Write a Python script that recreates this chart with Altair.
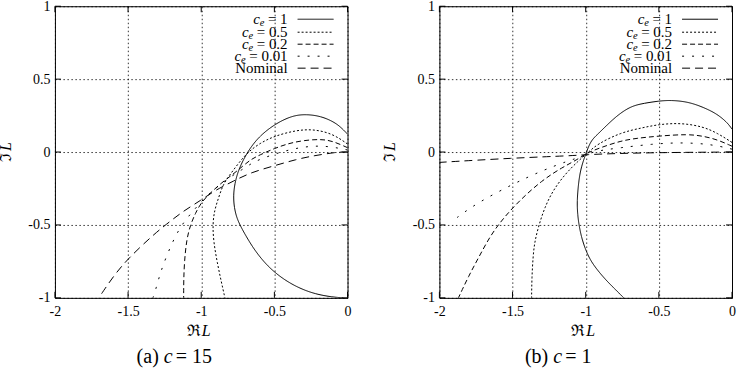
import altair as alt
import pandas as pd

# ---------------------------------------------------------------------------
# Nyquist curves L(jw), panel (a): c = 15
# ---------------------------------------------------------------------------
c15_ce1_re = [0.0, -0.05, -0.10, -0.18, -0.28, -0.38, -0.50, -0.60, -0.66, -0.70, -0.745,
              -0.772, -0.78, -0.775, -0.755, -0.72, -0.68, -0.63, -0.55, -0.45, -0.34, -0.22,
              -0.10, -0.03]
c15_ce1_im = [0.123, 0.175, 0.21, 0.245, 0.26, 0.25, 0.19, 0.11, 0.035, -0.03, -0.12,
              -0.22, -0.30, -0.38, -0.46, -0.53, -0.60, -0.68, -0.78, -0.865, -0.93, -0.975,
              -0.995, -1.0]

c15_ce05_re = [0.0, -0.10, -0.23, -0.35, -0.50, -0.60, -0.68, -0.74, -0.80, -0.85, -0.88,
               -0.91, -0.922, -0.915, -0.89, -0.865, -0.838]
c15_ce05_im = [0.055, 0.125, 0.157, 0.15, 0.11, 0.06, 0.0, -0.07, -0.15, -0.22, -0.31,
               -0.40, -0.50, -0.62, -0.76, -0.88, -1.0]

c15_ce02_re = [0.0, -0.10, -0.18, -0.30, -0.40, -0.50, -0.60, -0.66, -0.72, -0.78, -0.86,
               -0.933, -1.0, -1.04, -1.074, -1.10, -1.115, -1.12, -1.12]
c15_ce02_im = [0.03, 0.075, 0.089, 0.08, 0.06, 0.025, -0.02, -0.05, -0.10, -0.15, -0.21,
               -0.276, -0.345, -0.42, -0.50, -0.60, -0.75, -0.88, -1.0]

c15_ce001_re = [0.0, -0.10, -0.20, -0.30, -0.40, -0.50, -0.60, -0.66, -0.72, -0.80, -0.88,
                -0.95, -1.0, -1.06, -1.12, -1.18, -1.24, -1.28, -1.31, -1.33]
c15_ce001_im = [0.014, 0.035, 0.043, 0.035, 0.015, -0.014, -0.05, -0.08, -0.12, -0.17, -0.23,
                -0.29, -0.34, -0.41, -0.48, -0.58, -0.72, -0.83, -0.94, -1.0]

c15_nom_re = [0.0, -0.05, -0.10, -0.23, -0.35, -0.50, -0.66, -0.774, -0.91, -1.0, -1.115,
              -1.206, -1.32, -1.50, -1.60, -1.70]
c15_nom_im = [0.0, 0.0, -0.005, -0.025, -0.05, -0.094, -0.14, -0.196, -0.265, -0.33, -0.40,
              -0.47, -0.56, -0.73, -0.85, -1.0]

# ---------------------------------------------------------------------------
# Nyquist curves L(jw), panel (b): c = 1
# ---------------------------------------------------------------------------
c1_ce1_re = [0.0, -0.03, -0.10, -0.19, -0.30, -0.42, -0.50, -0.60, -0.69, -0.78, -0.86,
             -0.92, -0.966, -1.0, -1.03, -1.048, -1.06, -1.055, -1.046, -1.03, -1.005,
             -0.97, -0.92, -0.86, -0.80, -0.74]
c1_ce1_im = [0.157, 0.20, 0.26, 0.305, 0.345, 0.356, 0.35, 0.335, 0.315, 0.255, 0.18,
             0.12, 0.077, -0.014, -0.10, -0.196, -0.34, -0.43, -0.50, -0.58, -0.66,
             -0.74, -0.81, -0.88, -0.94, -1.0]

c1_ce05_re = [0.0, -0.10, -0.20, -0.35, -0.50, -0.62, -0.76, -0.92, -0.98, -1.05, -1.14,
              -1.225, -1.28, -1.32, -1.35, -1.36, -1.368, -1.37]
c1_ce05_im = [0.066, 0.13, 0.175, 0.20, 0.19, 0.165, 0.134, 0.055, 0.0, -0.06, -0.15,
              -0.265, -0.38, -0.50, -0.62, -0.72, -0.86, -1.0]

c1_ce02_re = [0.0, -0.10, -0.20, -0.305, -0.50, -0.65, -0.76, -0.90, -1.0, -1.05, -1.16,
              -1.30, -1.45, -1.56, -1.65, -1.73, -1.80, -1.87]
c1_ce02_im = [0.04, 0.085, 0.11, 0.123, 0.11, 0.095, 0.077, 0.03, -0.01, -0.048, -0.105,
              -0.195, -0.33, -0.45, -0.57, -0.72, -0.85, -1.0]

c1_ce001_re = [0.0, -0.15, -0.35, -0.55, -0.76, -0.95, -1.02, -1.12, -1.30, -1.50, -1.755, -1.90]
c1_ce001_im = [0.02, 0.055, 0.066, 0.055, 0.03, 0.005, -0.03, -0.06, -0.128, -0.22, -0.356, -0.465]

c1_nom_re = [0.0, -0.20, -0.50, -0.80, -1.0, -1.09, -1.50, -2.0]
c1_nom_im = [0.0, -0.001, -0.004, -0.01, -0.018, -0.025, -0.041, -0.071]

# ---------------------------------------------------------------------------
# Labels and ticks
# ---------------------------------------------------------------------------
series_keys = ["ce1", "ce05", "ce02", "ce001", "nominal"]
legend_tails = ["= 1", "= 0.5", "= 0.2", "= 0.01", "Nominal"]
legend_has_ce = [True, True, True, True, False]
x_ticks = [-2, -1.5, -1, -0.5, 0]
y_ticks = [-1, -0.5, 0, 0.5, 1]
panel_tags = ["(a)", "(b)"]
panel_c_values = ["= 15", "= 1"]

FONT = "Liberation Serif, DejaVu Serif, serif"
W, H = 293, 292
X0, X1, Y0, Y1 = -2.0, 0.0, -1.0, 1.0
DASHES = [[1, 0], [2, 2], [5, 3], [2, 8], [8, 5]]


def px_to_re(px):
    return X0 + px / W * (X1 - X0)


def py_to_im(py):
    return Y1 - py / H * (Y1 - Y0)


def curve_frame(curves):
    rows = []
    for key, (re_vals, im_vals) in zip(series_keys, curves):
        for i, (r, m) in enumerate(zip(re_vals, im_vals)):
            rows.append({"series": key, "order": i, "re": r, "im": m})
    return pd.DataFrame(rows)


def tick_frame():
    lx = 6 / W * (X1 - X0)
    ly = 6 / H * (Y1 - Y0)
    rows = []
    for t in x_ticks:
        rows.append({"x": t, "y": Y0, "x2": t, "y2": Y0 + ly})
        rows.append({"x": t, "y": Y1, "x2": t, "y2": Y1 - ly})
    for t in y_ticks:
        rows.append({"x": X0, "y": t, "x2": X0 + lx, "y2": t})
        rows.append({"x": X1, "y": t, "x2": X1 - lx, "y2": t})
    return pd.DataFrame(rows)


# approximate advance widths (em) of the serif face, used to right-align legend rows
EM = {"=": 0.564, " ": 0.25, ".": 0.25}


def text_width(s, size):
    return sum(EM.get(ch, 0.5) for ch in s) * size


def legend_frame():
    right = 233.0
    rows_y = [13, 26, 38, 50, 62]
    size = 15
    rows = []
    for key, tail, has_ce, yy in zip(series_keys, legend_tails, legend_has_ce, rows_y):
        e_x = right - text_width(tail, size) - 3.5
        rows.append({
            "series": key, "tail": tail,
            "tail_x": px_to_re(right), "y": py_to_im(yy),
            "c": "c" if has_ce else "", "e": "e" if has_ce else "",
            "e_x": px_to_re(e_x), "c_x": px_to_re(e_x - 4.6), "e_y": py_to_im(yy + 4),
            "s_x": px_to_re(243.0), "s_x2": px_to_re(279.0),
        })
    return pd.DataFrame(rows)


def panel(curves, tag, c_value, cap_shift):
    xs = alt.Scale(domain=[X0, X1], nice=False, zero=False)
    ys = alt.Scale(domain=[Y0, Y1], nice=False, zero=False)
    x_axis = alt.Axis(values=x_ticks, labelExpr="datum.value + ''", title=None)
    y_axis = alt.Axis(values=y_ticks, labelExpr="datum.value + ''", title=None)
    dash_scale = alt.Scale(domain=series_keys, range=DASHES)

    def X(field):
        return alt.X(field, type="quantitative", scale=xs, axis=x_axis)

    def Y(field):
        return alt.Y(field, type="quantitative", scale=ys, axis=y_axis)

    lines = alt.Chart(curve_frame(curves)).mark_line(
        clip=True, color="black", strokeWidth=1, interpolate="basis"
    ).encode(
        x=X("re"), y=Y("im"),
        detail="series:N",
        order="order:Q",
        strokeDash=alt.StrokeDash("series:N", scale=dash_scale, legend=None),
    )

    ticks = alt.Chart(tick_frame()).mark_rule(color="black", strokeWidth=1).encode(
        x=X("x"), y=Y("y"), x2="x2:Q", y2="y2:Q",
    )

    leg_base = alt.Chart(legend_frame())
    leg_tail = leg_base.mark_text(font=FONT, fontSize=15, align="right", baseline="middle", color="black").encode(
        x=X("tail_x"), y=Y("y"), text="tail:N")
    leg_c = leg_base.mark_text(font=FONT, fontSize=15, fontStyle="italic", align="right", baseline="middle", color="black").encode(
        x=X("c_x"), y=Y("y"), text="c:N")
    leg_e = leg_base.mark_text(font=FONT, fontSize=10.5, fontStyle="italic", align="right", baseline="middle", color="black").encode(
        x=X("e_x"), y=Y("e_y"), text="e:N")
    leg_line = leg_base.mark_rule(color="black", strokeWidth=1).encode(
        x=X("s_x"), x2="s_x2:Q", y=Y("y"),
        strokeDash=alt.StrokeDash("series:N", scale=dash_scale, legend=None),
    )

    # axis titles (Re L below, Im L rotated on the left)
    ttl = alt.Chart(pd.DataFrame({"k": [0]}))
    re_sym = ttl.mark_text(text="ℜ", font=FONT, fontSize=16, align="right", baseline="middle", color="black").encode(
        x=alt.value(146), y=alt.value(325))
    re_l = ttl.mark_text(text="L", font=FONT, fontSize=16, fontStyle="italic", align="left", baseline="middle", color="black").encode(
        x=alt.value(147), y=alt.value(325))
    im_sym = ttl.mark_text(text="ℑ", font=FONT, fontSize=16, angle=270, align="right", baseline="middle", color="black").encode(
        x=alt.value(-49), y=alt.value(147))
    im_l = ttl.mark_text(text="L", font=FONT, fontSize=16, fontStyle="italic", angle=270, align="left", baseline="middle", color="black").encode(
        x=alt.value(-49), y=alt.value(145))

    # sub-figure caption
    cap_tag = ttl.mark_text(text=tag, font=FONT, fontSize=20, align="right", baseline="middle", color="black").encode(
        x=alt.value(104 + cap_shift), y=alt.value(351))
    cap_c = ttl.mark_text(text="c", font=FONT, fontSize=20, fontStyle="italic", align="left", baseline="middle", color="black").encode(
        x=alt.value(109 + cap_shift), y=alt.value(351))
    cap_v = ttl.mark_text(text=c_value, font=FONT, fontSize=20, align="left", baseline="middle", color="black").encode(
        x=alt.value(121 + cap_shift), y=alt.value(351))

    return alt.layer(
        lines, ticks, leg_line, leg_tail, leg_c, leg_e,
        re_sym, re_l, im_sym, im_l, cap_tag, cap_c, cap_v,
    ).properties(width=W, height=H)


left = panel(
    [(c15_ce1_re, c15_ce1_im), (c15_ce05_re, c15_ce05_im), (c15_ce02_re, c15_ce02_im),
     (c15_ce001_re, c15_ce001_im), (c15_nom_re, c15_nom_im)],
    panel_tags[0], panel_c_values[0], 0,
)
right = panel(
    [(c1_ce1_re, c1_ce1_im), (c1_ce05_re, c1_ce05_im), (c1_ce02_re, c1_ce02_im),
     (c1_ce001_re, c1_ce001_im), (c1_nom_re, c1_nom_im)],
    panel_tags[1], panel_c_values[1], 5,
)

chart = alt.hconcat(left, right, spacing=92, bounds="flush").properties(
    autosize=alt.AutoSizeParams(type="pad"),
    padding={"left": -3, "top": -2, "right": 2, "bottom": 0},
).configure_view(
    stroke="black", strokeWidth=1,
).configure_axis(
    labelFont=FONT, labelFontSize=14, labelColor="black",
    labelFlush=False, labelOverlap=False,
    ticks=False, tickSize=0, domain=False,
    grid=True, gridColor="black", gridDash=[1.5, 2.5], gridWidth=0.8, gridOpacity=1,
).configure_axisX(
    labelPadding=7,
).configure_axisY(
    labelPadding=5,
)

chart.save("out.html", embed_options={"renderer": "svg", "actions": False})
